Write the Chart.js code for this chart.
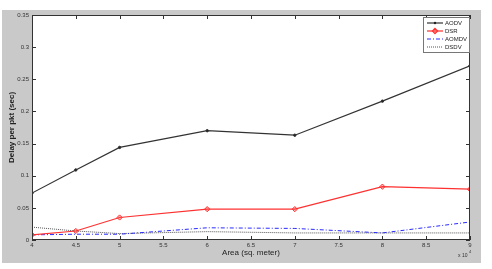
<!DOCTYPE html>
<html>
<head>
<meta charset="utf-8">
<script src="https://cdn.jsdelivr.net/npm/chart.js@4.4.0/dist/chart.umd.min.js"></script>
<style>
  html, body { margin: 0; padding: 0; background: #fff; }
  canvas { display: block; }
</style>
</head>
<body>
<canvas id="delayChart" width="492" height="269"></canvas>
<script>
// area values in units of 10^4 sq. meter
const areas = [4, 4.5, 5, 6, 7, 8, 9];
const aodv = [0.073, 0.109, 0.144, 0.170, 0.163, 0.216, 0.271];
const dsr = [0.008, 0.014, 0.035, 0.048, 0.048, 0.083, 0.079];
const aomdv = [0.008, 0.009, 0.009, 0.019, 0.018, 0.011, 0.028];
const dsdv = [0.020, 0.014, 0.010, 0.013, 0.011, 0.011, 0.011];
const xTicks = [4, 4.5, 5, 5.5, 6, 6.5, 7, 7.5, 8, 8.5, 9];
const yTicks = [0, 0.05, 0.1, 0.15, 0.2, 0.25, 0.3, 0.35];

const FONT = 'Liberation Sans, Arial, sans-serif';

function pts(ys) {
  return ys.map((y, i) => ({ x: areas[i], y: y }));
}

const series = [
  { label: 'AODV', data: pts(aodv), borderColor: '#333333', backgroundColor: '#222222',
    borderWidth: 1.2, pointStyle: 'circle', pointRadius: 1.2, borderDash: [] },
  { label: 'DSR', data: pts(dsr), borderColor: '#ff3030', backgroundColor: 'rgba(255,60,60,0.35)',
    borderWidth: 1.2, pointStyle: 'rectRot', pointRadius: 2.6, borderDash: [] },
  { label: 'AOMDV', data: pts(aomdv), borderColor: '#2a2aff', backgroundColor: '#2a2aff',
    borderWidth: 1, pointRadius: 0, borderDash: [4, 2, 1, 2] },
  { label: 'DSDV', data: pts(dsdv), borderColor: '#555555', backgroundColor: '#555555',
    borderWidth: 1, pointRadius: 0, borderDash: [1, 1] }
];

// gray figure background, white axes, box, inward ticks, legend, exponent
const matlabFrame = {
  id: 'matlabFrame',
  beforeDraw(chart) {
    const { ctx, chartArea: a } = chart;
    ctx.save();
    ctx.fillStyle = '#c9c9c9';
    ctx.fillRect(2, 10, 479, 253);
    ctx.fillStyle = '#ffffff';
    ctx.fillRect(a.left, a.top, a.right - a.left, a.bottom - a.top);
    ctx.restore();
  },
  afterDatasetsDraw(chart) {
    const { ctx, chartArea: a, scales } = chart;
    ctx.save();
    ctx.strokeStyle = '#333';
    ctx.lineWidth = 1;
    ctx.strokeRect(a.left + 0.5, a.top + 0.5, a.right - a.left - 1, a.bottom - a.top - 1);
    ctx.beginPath();
    xTicks.forEach((v) => {
      const x = Math.round(scales.x.getPixelForValue(v)) + 0.5;
      ctx.moveTo(x, a.bottom); ctx.lineTo(x, a.bottom - 4);
      ctx.moveTo(x, a.top); ctx.lineTo(x, a.top + 4);
    });
    yTicks.forEach((v) => {
      const y = Math.round(scales.y.getPixelForValue(v)) + 0.5;
      ctx.moveTo(a.left, y); ctx.lineTo(a.left + 4, y);
      ctx.moveTo(a.right, y); ctx.lineTo(a.right - 4, y);
    });
    ctx.stroke();

    // legend
    const lx = 423, ly = 17, lw = 46, lh = 35;
    ctx.fillStyle = '#fff';
    ctx.fillRect(lx, ly, lw, lh);
    ctx.strokeStyle = '#777';
    ctx.strokeRect(lx + 0.5, ly + 0.5, lw, lh);
    ctx.font = '6px ' + FONT;
    ctx.textBaseline = 'middle';
    chart.data.datasets.forEach((ds, i) => {
      const y = ly + 6 + i * 8;
      ctx.strokeStyle = ds.borderColor;
      ctx.lineWidth = ds.borderWidth;
      ctx.setLineDash(ds.borderDash || []);
      ctx.beginPath();
      ctx.moveTo(427, y); ctx.lineTo(443, y);
      ctx.stroke();
      ctx.setLineDash([]);
      if (ds.pointRadius > 0) {
        ctx.fillStyle = ds.backgroundColor;
        ctx.beginPath();
        if (ds.pointStyle === 'rectRot') {
          const r = ds.pointRadius;
          ctx.moveTo(435, y - r); ctx.lineTo(435 + r, y); ctx.lineTo(435, y + r); ctx.lineTo(435 - r, y);
          ctx.closePath();
          ctx.fill(); ctx.stroke();
        } else {
          ctx.arc(435, y, ds.pointRadius, 0, Math.PI * 2);
          ctx.fill();
        }
      }
      ctx.fillStyle = '#222';
      ctx.fillText(ds.label, 445, y);
    });

    // x 10^4 exponent
    ctx.fillStyle = '#333';
    ctx.font = '5px ' + FONT;
    ctx.fillText('x 10', 458, 256);
    ctx.font = '4px ' + FONT;
    ctx.fillText('4', 469, 252);
    ctx.restore();
  }
};

new Chart(document.getElementById('delayChart'), {
  type: 'line',
  data: {
    datasets: series.map((s) => ({
      label: s.label,
      data: s.data,
      borderColor: s.borderColor,
      backgroundColor: s.backgroundColor,
      borderWidth: s.borderWidth,
      borderDash: s.borderDash,
      pointStyle: s.pointStyle || 'circle',
      pointRadius: s.pointRadius,
      pointBorderColor: s.borderColor,
      pointBackgroundColor: s.backgroundColor,
      pointBorderWidth: 1,
      tension: 0,
      fill: false
    }))
  },
  options: {
    responsive: false,
    animation: false,
    devicePixelRatio: 1,
    layout: { padding: { left: 0, top: 15, right: 22, bottom: 0 } },
    plugins: { legend: { display: false }, tooltip: { enabled: false } },
    scales: {
      x: {
        type: 'linear',
        min: 4,
        max: 9,
        afterBuildTicks: (scale) => { scale.ticks = xTicks.map((v) => ({ value: v })); },
        afterFit: (scale) => { scale.height = 29; },
        grid: { display: false, drawTicks: false },
        border: { display: false },
        ticks: { padding: 2, color: '#333', font: { family: FONT, size: 6 }, maxRotation: 0,
          callback: (v) => String(v) },
        title: { display: true, text: 'Area (sq. meter)', color: '#222',
          font: { family: FONT, size: 8 }, padding: { top: 0, bottom: 11 } }
      },
      y: {
        type: 'linear',
        min: 0,
        max: 0.35,
        afterBuildTicks: (scale) => { scale.ticks = yTicks.map((v) => ({ value: v })); },
        afterFit: (scale) => { scale.width = 32; },
        grid: { display: false, drawTicks: false },
        border: { display: false },
        ticks: { padding: 3, color: '#333', font: { family: FONT, size: 6 },
          callback: (v) => String(Math.round(v * 100) / 100) },
        title: { display: true, text: 'Delay per pkt (sec)', color: '#222',
          font: { family: FONT, size: 8, weight: 'bold' }, padding: { top: 7, bottom: 0 } }
      }
    }
  },
  plugins: [matlabFrame]
});
</script>
</body>
</html>
